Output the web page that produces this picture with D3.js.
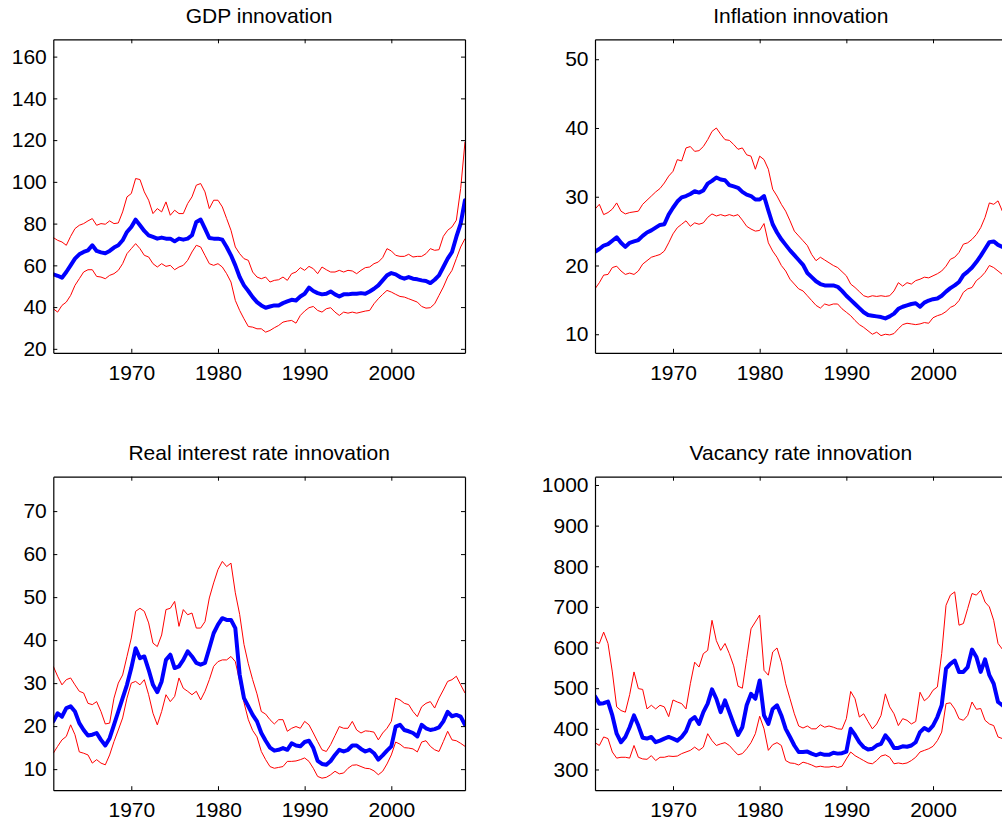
<!DOCTYPE html>
<html><head><meta charset="utf-8">
<script src="https://cdn.jsdelivr.net/npm/d3@7"></script>
<style>
body{margin:0;background:#fff}
svg{display:block}
text{font-family:"Liberation Sans",Arial,Helvetica,sans-serif;fill:#000}
</style>
</head><body>
<svg id="chart" width="1002" height="827"></svg>
<script>
const years = [1961,1961.5,1962,1962.5,1963,1963.5,1964,1964.5,1965,1965.5,1966,1966.5,1967,1967.5,1968,1968.5,1969,1969.5,1970,1970.5,1971,1971.5,1972,1972.5,1973,1973.5,1974,1974.5,1975,1975.5,1976,1976.5,1977,1977.5,1978,1978.5,1979,1979.5,1980,1980.5,1981,1981.5,1982,1982.5,1983,1983.5,1984,1984.5,
1985,1985.5,1986,1986.5,1987,1987.5,1988,1988.5,1989,1989.5,1990,1990.5,1991,1991.5,1992,1992.5,1993,1993.5,1994,1994.5,1995,1995.5,1996,1996.5,1997,1997.5,1998,1998.5,1999,1999.5,2000,2000.5,2001,2001.5,2002,2002.5,2003,2003.5,2004,2004.5,2005,2005.5,2006,2006.5,2007,2007.5,2008,2008.5];

const xTicks = [1970,1980,1990,2000];

// GDP innovation
const gdpMean = [55.7,55.0,54.1,56.8,60.0,63.2,65.3,66.4,67.2,69.6,66.9,66.2,65.8,66.9,68.5,69.6,72.0,76.0,78.4,81.9,79.2,76.5,74.4,73.6,72.8,73.3,72.8,72.8,71.5,72.8,72.3,72.8,74.4,80.8,81.9,77.6,73.1,72.8,72.8,72.3,68.8,64.8,60.0,54.4,50.4,47.7,44.8,42.4,
40.8,39.7,40.3,40.8,40.8,41.9,42.7,43.5,43.2,45.1,46.4,49.3,47.7,46.7,46.1,46.4,47.5,46.1,45.1,46.1,46.1,46.4,46.4,46.7,46.4,47.5,48.8,50.4,52.8,55.2,56.3,55.7,54.4,53.6,54.4,53.6,53.3,52.8,52.5,51.5,53.1,55.2,59.2,63.2,66.4,73.6,80.0,91.2];
const gdpUpper = [73.3,72.0,71.2,69.6,73.9,77.6,79.2,80.0,81.3,82.4,79.2,80.0,79.7,81.3,80.0,80.3,85.6,92.8,94.4,101.6,101.1,95.2,91.2,84.8,87.2,85.6,90.4,84.0,86.4,84.8,84.8,89.6,92.8,98.4,99.2,95.2,87.2,91.2,91.2,88.0,82.4,76.8,68.8,65.6,63.2,62.4,56.8,54.4,
53.6,54.4,52.0,52.8,53.1,54.4,52.8,56.0,56.8,58.9,57.6,59.5,58.4,56.0,59.2,57.9,56.8,56.8,57.6,56.8,57.6,57.3,56.0,57.6,58.9,59.2,60.8,61.6,63.7,68.0,66.9,64.8,64.3,64.3,65.3,64.0,64.3,64.3,65.6,68.0,67.2,67.5,73.9,76.8,78.4,81.6,96.8,119.2];
const gdpLower = [39.2,37.6,40.8,42.4,45.6,50.4,53.6,56.8,57.9,57.9,54.7,54.4,53.6,55.2,56.0,57.6,60.8,65.6,68.0,70.4,68.0,64.8,64.0,60.8,59.2,60.8,59.5,60.0,57.9,59.2,60.0,62.4,66.4,69.6,68.8,64.8,60.8,60.0,60.8,59.2,56.0,52.0,43.2,38.4,34.4,30.7,30.4,29.6,
29.6,28.0,28.8,30.1,31.2,32.8,33.3,33.6,32.3,36.0,38.1,39.7,40.3,38.4,37.6,39.2,39.7,37.6,36.0,37.6,37.1,37.6,37.1,37.6,38.1,38.4,41.6,44.0,46.1,48.0,47.2,46.1,45.1,44.8,44.0,43.2,42.4,40.3,39.5,39.7,41.6,45.6,49.6,54.4,57.6,63.2,68.8,72.8];
const gdpTicks = [20,40,60,80,100,120,140,160];

// Inflation innovation
const infMean = [22.0,22.4,22.9,23.1,23.6,24.1,23.3,22.7,23.3,23.5,23.7,24.3,24.8,25.1,25.5,25.9,26.0,27.4,28.4,29.3,29.9,30.1,30.4,30.8,30.6,30.9,31.9,32.3,32.8,32.5,32.4,31.7,31.5,31.3,30.7,30.3,30.1,29.6,29.6,30.1,28.0,26.0,24.8,23.8,23.0,22.2,21.5,20.8,
20.1,18.9,18.3,17.7,17.3,17.1,17.1,17.1,16.9,16.3,15.6,15.0,14.4,13.8,13.2,12.8,12.7,12.6,12.5,12.3,12.6,13.0,13.7,14.0,14.2,14.4,14.5,14.0,14.6,14.9,15.1,15.2,15.6,16.2,16.7,17.1,17.6,18.6,19.1,19.7,20.5,21.4,22.4,23.4,23.5,23.0,22.7,22.5];
const infUpper = [28.2,28.9,27.4,27.7,28.2,29.1,27.9,27.5,27.7,27.8,27.9,28.9,29.5,30.1,30.7,31.2,32.0,33.0,33.7,35.4,35.2,37.1,37.3,36.6,36.7,37.3,38.3,39.5,40.0,39.1,38.3,38.2,37.6,36.9,37.1,36.1,35.9,34.0,35.9,35.4,34.0,31.1,30.1,28.9,27.9,26.5,25.0,24.3,
23.6,22.9,21.6,20.7,21.2,20.8,20.4,20.0,19.7,19.1,18.5,17.3,16.8,16.2,15.6,15.4,15.6,15.5,15.6,15.5,15.6,16.3,17.5,17.0,17.5,17.3,17.8,18.0,18.3,18.2,18.5,18.8,19.2,19.9,20.9,21.2,21.9,23.1,23.3,23.8,24.5,25.5,27.0,29.1,28.9,29.4,27.9,28.0];
const infLower = [16.6,17.5,18.6,18.7,19.7,19.9,19.2,18.7,18.9,18.7,19.2,20.2,20.7,21.2,21.4,21.6,22.1,23.3,24.6,25.5,26.0,26.5,25.7,26.2,26.0,26.2,27.0,27.5,27.2,27.4,27.2,27.4,27.2,27.4,26.6,25.7,25.3,25.0,25.1,26.1,23.3,22.1,21.2,20.0,19.2,18.0,17.3,16.6,
16.3,15.6,14.9,14.2,13.8,14.4,14.2,14.4,14.4,13.7,13.2,12.7,12.0,11.4,11.0,10.5,10.0,10.3,9.8,10.0,9.9,10.1,10.8,11.4,11.6,11.5,11.4,11.5,11.7,11.6,12.4,12.7,12.9,13.3,13.9,14.2,14.9,16.1,16.6,16.8,17.8,18.3,19.0,20.0,19.7,19.2,18.7,18.5];
const infTicks = [10,20,30,40,50];

// Real interest rate innovation
const rirMean = [21.1,23.0,22.2,24.2,24.6,23.4,20.7,19.1,17.8,18.0,18.4,16.8,15.5,17.2,20.3,23.4,26.5,29.6,33.5,38.1,35.8,36.2,33.1,29.6,27.9,30.4,35.4,36.6,33.5,33.9,35.4,37.4,36.2,34.7,34.3,34.7,38.1,41.6,43.6,45.1,44.7,44.7,42.8,32.0,26.5,24.6,22.6,21.1,
18.4,16.6,15.0,14.3,14.5,14.9,14.5,16.0,15.5,15.3,16.3,16.6,14.9,11.9,11.2,11.0,11.9,13.3,14.5,14.1,14.5,15.5,15.5,14.7,14.1,14.5,13.7,12.2,13.2,14.3,15.3,19.9,20.3,19.1,18.8,18.4,17.6,20.3,19.5,19.1,19.3,19.7,21.1,23.3,22.3,22.6,22.2,20.3];
const rirUpper = [33.9,31.6,29.6,30.8,31.2,29.6,28.1,27.7,25.3,25.0,25.7,23.4,20.5,20.7,26.5,30.0,31.9,36.2,40.5,46.7,47.4,46.7,44.0,39.3,38.5,41.2,47.1,47.4,49.0,43.2,47.1,45.9,46.3,42.8,42.8,44.3,49.8,53.3,56.4,58.3,57.1,57.9,51.0,46.0,39.0,34.5,30.8,27.5,
23.4,22.8,21.5,20.5,21.5,21.5,18.8,19.5,19.9,19.5,21.1,20.3,18.4,16.4,14.5,14.1,15.7,17.8,19.9,19.5,19.5,21.1,19.1,18.4,18.9,18.8,18.6,16.8,18.4,19.5,21.1,26.5,26.1,25.3,25.0,23.4,22.2,24.5,25.3,25.7,24.2,26.5,28.4,30.4,30.8,31.6,29.6,27.7];
const rirLower = [13.7,15.3,16.8,17.6,20.3,18.0,14.0,13.7,13.3,11.4,12.2,11.4,11.0,13.3,16.4,19.1,21.9,26.5,30.0,30.4,29.6,30.8,27.3,23.0,20.3,23.4,27.3,25.7,26.9,31.2,28.8,28.1,27.3,28.1,26.1,28.1,30.8,33.9,35.0,35.4,35.4,36.2,35.0,30.5,25.5,21.5,19.0,17.5,
14.1,12.2,10.6,10.2,10.4,10.6,11.8,11.8,11.9,12.2,12.6,11.8,10.2,8.3,7.9,8.1,8.7,9.5,8.9,9.1,10.2,10.9,11.0,10.6,10.2,10.1,9.6,8.7,9.5,11.2,13.3,16.3,15.8,15.0,14.9,14.7,14.0,16.3,16.6,15.3,14.5,14.1,16.4,18.8,16.8,16.6,16.0,15.3];
const rirTicks = [10,20,30,40,50,60,70];

// Vacancy rate innovation
const vacMean = [480,462,463,467,433,388,367,380,404,433,408,378,376,380,367,371,376,380,376,371,380,394,421,429,412,441,462,497,474,441,470,441,412,385,404,458,486,474,519,433,412,449,458,433,400,380,359,343,
343,344,339,335,339,336,336,341,339,340,344,400,385,367,355,349,351,359,363,384,371,353,353,357,356,359,367,392,402,396,408,429,458,548,560,568,540,540,552,595,577,540,571,532,511,466,458,450];
const vacUpper = [615,610,638,610,540,454,445,441,484,540,499,497,449,458,449,458,454,430,471,466,462,449,511,564,552,585,593,667,617,593,610,585,555,505,500,573,646,663,680,544,532,589,599,564,511,474,437,407,
402,407,400,400,410,404,407,404,400,399,425,492,474,429,437,418,400,412,433,486,454,437,408,425,421,412,418,490,469,478,495,503,585,704,729,737,655,659,696,733,729,741,712,700,667,610,596,595];
const vacLower = [366,359,380,376,343,328,330,330,328,359,330,326,325,334,322,330,330,333,332,333,339,343,347,355,347,355,388,371,359,363,366,359,347,336,339,351,366,388,431,400,347,361,366,359,322,316,315,311,
318,315,311,306,308,306,306,308,305,308,326,343,334,328,322,316,314,322,333,336,330,314,316,314,316,322,330,343,347,351,357,371,392,462,464,449,425,421,433,466,448,450,421,412,408,380,376,375];
const vacTicks = [300,400,500,600,700,800,900,1000];

const panels = [
  {title:"GDP innovation", mean:gdpMean, upper:gdpUpper, lower:gdpLower, ticks:gdpTicks, yDomain:[18.1,168.3], x0:53.3, y0:39.3},
  {title:"Inflation innovation", mean:infMean, upper:infUpper, lower:infLower, ticks:infTicks, yDomain:[7.3,52.9], x0:595, y0:39.3},
  {title:"Real interest rate innovation", mean:rirMean, upper:rirUpper, lower:rirLower, ticks:rirTicks, yDomain:[5.1,78], x0:53.3, y0:476.7},
  {title:"Vacancy rate innovation", mean:vacMean, upper:vacUpper, lower:vacLower, ticks:vacTicks, yDomain:[249,1020.4], x0:595, y0:476.7}
];
const W = 411.7, H = 313.5, FS = 21;

const svg = d3.select("#chart");
svg.append("rect").attr("width",1002).attr("height",827).attr("fill","#fff");

panels.forEach((p,i) => {
  const g = svg.append("g").attr("transform",`translate(${p.x0},${p.y0})`);
  const x = d3.scaleLinear().domain([1961,2008.5]).range([0,W]);
  const y = d3.scaleLinear().domain(p.yDomain).range([H,0]);

  const cid = "clip"+i;
  g.append("clipPath").attr("id",cid).append("rect").attr("width",W).attr("height",H);
  const plot = g.append("g").attr("clip-path",`url(#${cid})`);
  const line = d3.line().x((d,j)=>x(years[j])).y(d=>y(d));

  plot.append("path").datum(p.upper).attr("d",line).attr("fill","none").attr("stroke","#ff0000").attr("stroke-width",1);
  plot.append("path").datum(p.lower).attr("d",line).attr("fill","none").attr("stroke","#ff0000").attr("stroke-width",1);
  plot.append("path").datum(p.mean).attr("d",line).attr("fill","none").attr("stroke","#0000ff").attr("stroke-width",4).attr("stroke-linejoin","round").attr("stroke-linecap","round");

  const styleAxis = a => {
    a.selectAll("path.domain").attr("stroke","#000").attr("stroke-width",1.2);
    a.selectAll(".tick line").attr("stroke","#000").attr("stroke-width",1);
    a.selectAll("text").attr("font-size",FS).attr("font-family",'"Liberation Sans",Arial,sans-serif').attr("fill","#000");
  };
  styleAxis(g.append("g").call(d3.axisLeft(y).tickValues(p.ticks).tickSizeInner(-4).tickSizeOuter(0).tickPadding(6.5).tickFormat(d3.format("d"))));
  styleAxis(g.append("g").attr("transform",`translate(${W},0)`).call(d3.axisRight(y).tickValues(p.ticks).tickSizeInner(-4).tickSizeOuter(0).tickFormat("")));
  styleAxis(g.append("g").attr("transform",`translate(0,${H})`).call(d3.axisBottom(x).tickValues(xTicks).tickSizeInner(-4).tickSizeOuter(0).tickPadding(12).tickFormat(d3.format("d"))));
  styleAxis(g.append("g").call(d3.axisTop(x).tickValues(xTicks).tickSizeInner(-4).tickSizeOuter(0).tickFormat("")));

  g.append("text").attr("x",W/2).attr("y",-16.5).attr("text-anchor","middle").attr("font-size",FS).text(p.title);
});
</script>
</body></html>
